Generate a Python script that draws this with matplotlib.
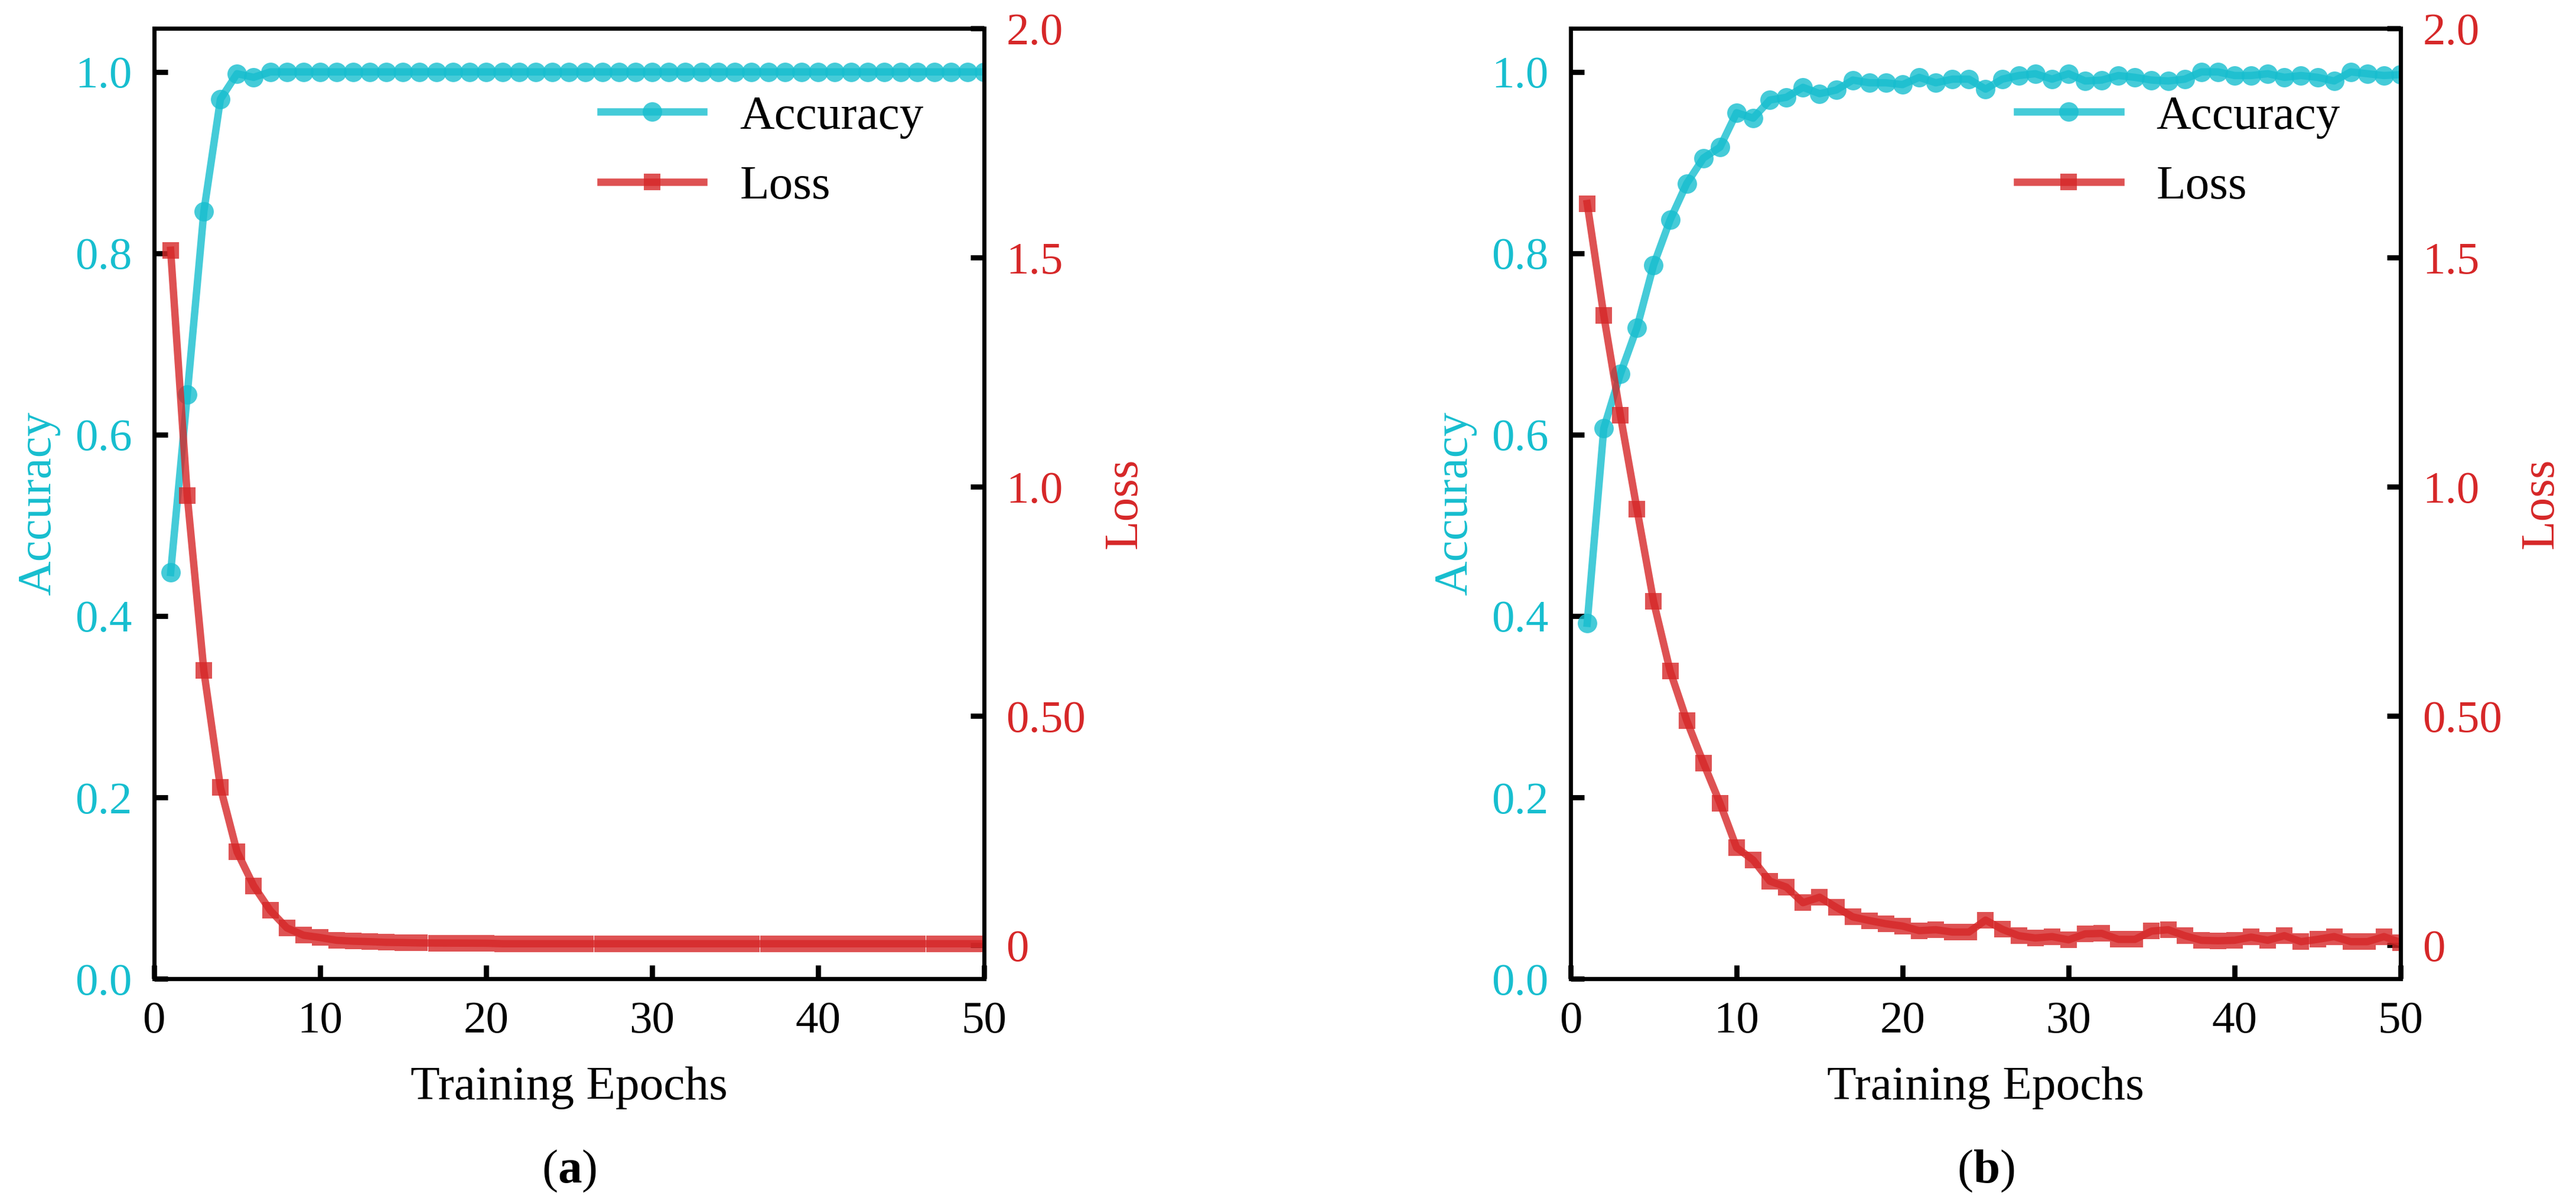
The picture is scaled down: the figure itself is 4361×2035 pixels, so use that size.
import numpy as np
import matplotlib
matplotlib.use('Agg')
import matplotlib.pyplot as plt
from matplotlib.ticker import FixedLocator, FixedFormatter

plt.rcParams['font.family'] = ['Liberation Serif', 'DejaVu Serif']
plt.rcParams['mathtext.fontset'] = 'custom'
plt.rcParams['mathtext.rm'] = 'Liberation Serif'
plt.rcParams['mathtext.bf'] = 'Liberation Serif:bold'

CYAN = '#17becf'
RED = '#d62728'

epochs = np.arange(1, 51)

# panel (a)
acc_a = [0.448, 0.644, 0.846, 0.970, 0.998, 0.994] + [1.0] * 44
loss_a = [1.516, 0.981, 0.599, 0.344, 0.204, 0.130, 0.076, 0.038, 0.022, 0.017,
          0.011, 0.009, 0.008, 0.0065, 0.006, 0.0052, 0.005, 0.0048, 0.0047, 0.0045] + [0.0035] * 30

# panel (b)
acc_b = [0.392, 0.607, 0.667, 0.718, 0.787, 0.837, 0.877, 0.905, 0.917, 0.955,
         0.949, 0.969, 0.972, 0.983, 0.976, 0.980, 0.991, 0.988, 0.988, 0.986,
         0.994, 0.988, 0.992, 0.992, 0.981, 0.992, 0.996, 0.998, 0.992, 0.998,
         0.990, 0.991, 0.996, 0.994, 0.991, 0.990, 0.992, 1.000, 1.000, 0.996,
         0.996, 0.998, 0.994, 0.996, 0.994, 0.990, 1.000, 0.998, 0.996, 0.997]
loss_b = [1.618, 1.374, 1.156, 0.951, 0.750, 0.598, 0.490, 0.398, 0.310, 0.213,
          0.186, 0.140, 0.127, 0.093, 0.105, 0.083, 0.062, 0.054, 0.047, 0.042,
          0.032, 0.034, 0.029, 0.029, 0.055, 0.035, 0.021, 0.016, 0.019, 0.012,
          0.025, 0.026, 0.013, 0.013, 0.031, 0.034, 0.021, 0.011, 0.010, 0.011,
          0.018, 0.011, 0.021, 0.008, 0.013, 0.019, 0.008, 0.008, 0.019, 0.006]

acc_ticks = [0.0, 0.2, 0.4, 0.6, 0.8, 1.0]
acc_ticklabels = ['0.0', '0.2', '0.4', '0.6', '0.8', '1.0']
loss_ticks = [0, 0.5, 1.0, 1.5, 2.0]
loss_ticklabels = ['0', '0.50', '1.0', '1.5', '2.0']
x_ticks = [0, 10, 20, 30, 40, 50]

panels = [('a', acc_a, loss_a, 0.0598), ('b', acc_b, loss_b, 0.6097)]

fig = plt.figure(figsize=(4361 / 300, 2035 / 300), dpi=300)

for tag, acc, loss, left in panels:
    ax = fig.add_axes([left, 0.1857, 0.3222, 0.7907])
    ax2 = ax.twinx()

    l1, = ax.plot(epochs, acc, color=CYAN, lw=3, marker='o', ms=7.9, mew=0,
                  alpha=0.8, label='Accuracy')
    l2, = ax2.plot(epochs, loss, color=RED, lw=3, marker='s', ms=6.8, mew=0,
                   alpha=0.8, label='Loss')

    ax.set_xlim(0, 50)
    ax.set_ylim(0, 1.048)
    ax2.set_ylim(-0.073, 2.0)

    ax.set_xticks(x_ticks)
    ax.yaxis.set_major_locator(FixedLocator(acc_ticks))
    ax.yaxis.set_major_formatter(FixedFormatter(acc_ticklabels))
    ax2.yaxis.set_major_locator(FixedLocator(loss_ticks))
    ax2.yaxis.set_major_formatter(FixedFormatter(loss_ticklabels))

    for a in (ax, ax2):
        for s in a.spines.values():
            s.set_linewidth(1.6)
    ax.tick_params(axis='x', direction='in', length=5.5, width=2.1,
                   labelsize=18.5, pad=9, top=False)
    ax.tick_params(axis='y', direction='in', length=5.5, width=2.1,
                   labelsize=18.5, pad=9, labelcolor=CYAN, right=False)
    ax2.tick_params(axis='y', direction='in', length=5.5, width=2.1,
                    labelsize=18.5, pad=9, labelcolor=RED)

    ax.set_xlabel('Training Epochs', fontsize=19.5, labelpad=10)
    ax.set_ylabel('Accuracy', fontsize=19.5, color=CYAN, labelpad=6)
    ax2.set_ylabel('Loss', fontsize=19.5, color=RED, labelpad=7)

    ax2.legend([l1, l2], ['Accuracy', 'Loss'], loc='center left',
               bbox_to_anchor=(0.538, 0.870), frameon=False, fontsize=19.5,
               borderpad=0, borderaxespad=0, handlelength=2.15,
               handletextpad=0.75, labelspacing=0.55)

    ax.text(0.5, -0.2026, r'($\mathbf{' + tag + r'}$)', transform=ax.transAxes,
            ha='center', va='center', fontsize=19.5)

fig.savefig('out.png', dpi=300)
